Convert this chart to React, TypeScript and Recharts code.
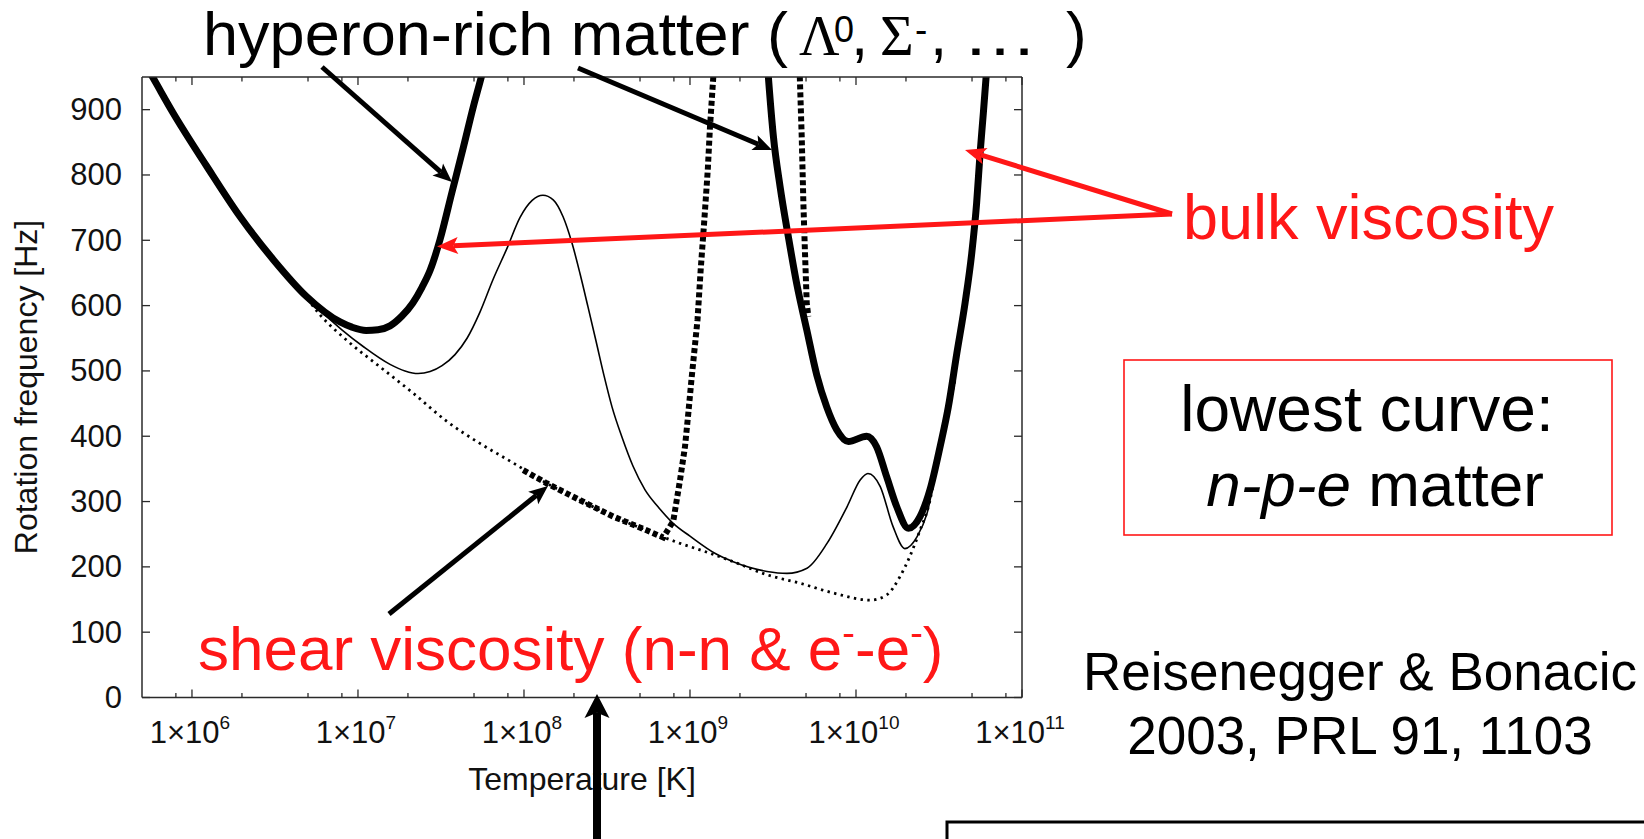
import React from "react";
import { LineChart, Line, XAxis, YAxis } from "recharts";

// temperature [K] vs rotation frequency [Hz]
const hyperonLow = [
  { t: 5.0e5, hz: 978 }, { t: 5.85e5, hz: 948 }, { t: 7.7e5, hz: 895 }, { t: 1.23e6, hz: 813 },
  { t: 1.95e6, hz: 736 }, { t: 3.1e6, hz: 670 }, { t: 4.9e6, hz: 614 }, { t: 7.8e6, hz: 575 },
  { t: 9.2e6, hz: 567 }, { t: 1.12e7, hz: 562 }, { t: 1.32e7, hz: 563 }, { t: 1.56e7, hz: 569 },
  { t: 1.84e7, hz: 584 }, { t: 2.14e7, hz: 604 }, { t: 2.43e7, hz: 628 }, { t: 2.72e7, hz: 654 },
  { t: 3.12e7, hz: 701 }, { t: 3.67e7, hz: 772 }, { t: 4.32e7, hz: 843 }, { t: 4.96e7, hz: 905 },
  { t: 5.56e7, hz: 952 }, { t: 6.1e7, hz: 992 },
];

const thinCurve = [
  { t: 5.0e5, hz: 978 }, { t: 5.85e5, hz: 948 }, { t: 7.7e5, hz: 895 }, { t: 1.23e6, hz: 813 },
  { t: 1.95e6, hz: 736 }, { t: 3.1e6, hz: 670 }, { t: 4.9e6, hz: 614 }, { t: 5.9e6, hz: 593 },
  { t: 8.0e6, hz: 563 }, { t: 1.08e7, hz: 537 }, { t: 1.56e7, hz: 510 }, { t: 1.92e7, hz: 500 },
  { t: 2.3e7, hz: 496 }, { t: 2.72e7, hz: 499 }, { t: 3.21e7, hz: 508 }, { t: 3.84e7, hz: 525 },
  { t: 4.54e7, hz: 550 }, { t: 5.43e7, hz: 590 }, { t: 6.51e7, hz: 640 }, { t: 7.91e7, hz: 688 },
  { t: 9.47e7, hz: 735 }, { t: 1.12e8, hz: 761 }, { t: 1.3e8, hz: 769 }, { t: 1.5e8, hz: 762 },
  { t: 1.72e8, hz: 736 }, { t: 1.95e8, hz: 695 }, { t: 2.18e8, hz: 648 }, { t: 2.43e8, hz: 598 },
  { t: 2.72e8, hz: 545 }, { t: 3.04e8, hz: 492 }, { t: 3.39e8, hz: 445 }, { t: 3.9e8, hz: 398 },
  { t: 4.54e8, hz: 354 }, { t: 5.36e8, hz: 318 }, { t: 6.42e8, hz: 292 }, { t: 7.89e8, hz: 267 },
  { t: 1.0e9, hz: 247 }, { t: 1.43e9, hz: 220 }, { t: 1.82e9, hz: 208 }, { t: 2.3e9, hz: 199 },
  { t: 2.91e9, hz: 193 }, { t: 3.84e9, hz: 190 }, { t: 5.07e9, hz: 198 }, { t: 6.69e9, hz: 236 },
  { t: 8.83e9, hz: 292 }, { t: 1.06e10, hz: 333 }, { t: 1.18e10, hz: 343 }, { t: 1.4e10, hz: 323 },
  { t: 1.67e10, hz: 262 }, { t: 1.97e10, hz: 228 }, { t: 2.33e10, hz: 246 }, { t: 2.68e10, hz: 282 },
  { t: 3.21e10, hz: 384 }, { t: 3.95e10, hz: 486 },
];

const npeCurve = [
  { t: 5.0e5, hz: 978 }, { t: 5.85e5, hz: 948 }, { t: 7.7e5, hz: 895 }, { t: 1.23e6, hz: 813 },
  { t: 1.95e6, hz: 736 }, { t: 3.1e6, hz: 670 }, { t: 4.9e6, hz: 612 }, { t: 5.9e6, hz: 586 },
  { t: 8.55e6, hz: 547 }, { t: 1.36e7, hz: 506 }, { t: 2.15e7, hz: 466 }, { t: 3.42e7, hz: 423 },
  { t: 5.43e7, hz: 389 }, { t: 8.63e7, hz: 359 }, { t: 1.37e8, hz: 328 }, { t: 2.18e8, hz: 302 },
  { t: 3.45e8, hz: 277 }, { t: 5.48e8, hz: 256 }, { t: 8.71e8, hz: 236 }, { t: 1.15e9, hz: 226 },
  { t: 1.82e9, hz: 208 }, { t: 2.9e9, hz: 188 }, { t: 4.6e9, hz: 175 }, { t: 7.3e9, hz: 160 },
  { t: 1.22e10, hz: 149 }, { t: 1.53e10, hz: 157 }, { t: 1.84e10, hz: 185 }, { t: 2.11e10, hz: 216 },
  { t: 2.43e10, hz: 256 }, { t: 2.73e10, hz: 292 }, { t: 3.21e10, hz: 384 }, { t: 3.95e10, hz: 486 },
];

const dottedLeft = [
  { t: 9.9e7, hz: 348 }, { t: 1.37e8, hz: 328 }, { t: 2.18e8, hz: 302 }, { t: 3.45e8, hz: 277 },
  { t: 5.48e8, hz: 256 }, { t: 6.9e8, hz: 245 }, { t: 7.93e8, hz: 270 }, { t: 8.71e8, hz: 333 },
  { t: 9.33e8, hz: 384 }, { t: 9.77e8, hz: 435 }, { t: 1.02e9, hz: 486 }, { t: 1.11e9, hz: 578 },
  { t: 1.16e9, hz: 655 }, { t: 1.22e9, hz: 731 }, { t: 1.28e9, hz: 808 }, { t: 1.32e9, hz: 874 },
  { t: 1.38e9, hz: 948 }, { t: 1.41e9, hz: 990 },
];

const dottedRight = [
  { t: 4.57e9, hz: 1000 }, { t: 4.59e9, hz: 948 }, { t: 4.71e9, hz: 859 }, { t: 4.82e9, hz: 757 },
  { t: 4.93e9, hz: 680 }, { t: 5.05e9, hz: 604 }, { t: 5.16e9, hz: 583 },
];

const hyperonHigh = [
  { t: 2.87e9, hz: 1000 }, { t: 2.97e9, hz: 948 }, { t: 3.18e9, hz: 859 }, { t: 3.49e9, hz: 782 },
  { t: 3.91e9, hz: 706 }, { t: 4.39e9, hz: 634 }, { t: 5.05e9, hz: 563 }, { t: 5.8e9, hz: 494 },
  { t: 6.66e9, hz: 445 }, { t: 7.65e9, hz: 410 }, { t: 9.0e9, hz: 392 }, { t: 1.16e10, hz: 400 },
  { t: 1.33e10, hz: 384 }, { t: 1.53e10, hz: 338 }, { t: 1.76e10, hz: 292 }, { t: 2.07e10, hz: 259 },
  { t: 2.43e10, hz: 277 }, { t: 2.79e10, hz: 318 }, { t: 3.21e10, hz: 384 }, { t: 3.6e10, hz: 445 },
  { t: 4.05e10, hz: 527 }, { t: 4.54e10, hz: 604 }, { t: 4.98e10, hz: 680 }, { t: 5.33e10, hz: 757 },
  { t: 5.59e10, hz: 833 }, { t: 5.85e10, hz: 895 }, { t: 6.07e10, hz: 948 }, { t: 6.3e10, hz: 1000 },
];

const xTicks = [
  8e5, 1e6, 2e6, 5e6, 8e6, 1e7, 2e7, 5e7, 8e7, 1e8, 2e8, 5e8, 8e8,
  1e9, 2e9, 5e9, 8e9, 1e10, 2e10, 5e10, 8e10, 1e11,
];
const yTicks = [0, 100, 200, 300, 400, 500, 600, 700, 800, 900];

const SANS = "'Liberation Sans', Arial, Helvetica, sans-serif";
const SERIF = "'Liberation Serif', 'Times New Roman', serif";
const RED = "#ff1717";
const FRAME = "#2a2a2a";

const isMajor = (v: number) => Math.abs(Math.log10(v) - Math.round(Math.log10(v))) < 1e-6;

function BottomTick(props: any) {
  const { x, y, payload } = props;
  const v = payload.value;
  const major = isMajor(v);
  return (
    <g>
      <line x1={x} y1={y} x2={x} y2={y - (major ? 8 : 4.5)} stroke={FRAME} strokeWidth={1.3} />
      {major && (
        <text x={x - 2} y={y + 45} textAnchor="middle" fontFamily={SANS} fontSize={31} fill="#111">
          1×10
          <tspan dy={-14} fontSize={19}>{Math.round(Math.log10(v))}</tspan>
        </text>
      )}
    </g>
  );
}

function TopTick(props: any) {
  const { x, y, payload } = props;
  const major = isMajor(payload.value);
  return <line x1={x} y1={y} x2={x} y2={y + (major ? 8 : 4.5)} stroke={FRAME} strokeWidth={1.3} />;
}

function LeftTick(props: any) {
  const { x, y, payload } = props;
  return (
    <g>
      <line x1={x} y1={y} x2={x + 8} y2={y} stroke={FRAME} strokeWidth={1.3} />
      <text x={x - 20} y={y + 10.5} textAnchor="end" fontFamily={SANS} fontSize={31} fill="#111">
        {payload.value}
      </text>
    </g>
  );
}

function RightTick(props: any) {
  const { x, y } = props;
  return <line x1={x} y1={y} x2={x - 8} y2={y} stroke={FRAME} strokeWidth={1.3} />;
}

function Arrow({ x1, y1, x2, y2, color = "#000", width = 5, headLen = 19, headW = 16 }: any) {
  const a = Math.atan2(y2 - y1, x2 - x1);
  const c = Math.cos(a);
  const s = Math.sin(a);
  const bx = x2 - headLen * c;
  const by = y2 - headLen * s;
  const nx = -s;
  const ny = c;
  const notch = headLen * 0.78;
  const pts = [
    [x2, y2],
    [bx + (nx * headW) / 2, by + (ny * headW) / 2],
    [x2 - notch * c, y2 - notch * s],
    [bx - (nx * headW) / 2, by - (ny * headW) / 2],
  ]
    .map((p) => p.join(","))
    .join(" ");
  return (
    <g>
      <line x1={x1} y1={y1} x2={x2 - notch * c} y2={y2 - notch * s} stroke={color} strokeWidth={width} />
      <polygon points={pts} fill={color} />
    </g>
  );
}

export default function App() {
  const lineCommon = {
    dataKey: "hz",
    xAxisId: "b",
    yAxisId: "l",
    dot: false,
    activeDot: false,
    isAnimationActive: false,
    stroke: "#000",
  } as const;

  return (
    <div
      style={{
        position: "absolute",
        left: 0,
        top: 0,
        width: 1644,
        height: 839,
        background: "#fff",
        overflow: "hidden",
      }}
    >
      <LineChart width={1644} height={839} margin={{ top: 67, right: 612, bottom: 81.5, left: 42 }}>
        <XAxis
          xAxisId="b"
          dataKey="t"
          type="number"
          scale="log"
          domain={[5e5, 1e11]}
          allowDataOverflow
          ticks={xTicks}
          interval={0}
          height={60}
          tickSize={0}
          tickMargin={0}
          tick={<BottomTick />}
          axisLine={{ stroke: FRAME, strokeWidth: 1.5 }}
        />
        <XAxis
          xAxisId="t"
          orientation="top"
          dataKey="t"
          type="number"
          scale="log"
          domain={[5e5, 1e11]}
          allowDataOverflow
          ticks={xTicks}
          interval={0}
          height={10}
          tickSize={0}
          tickMargin={0}
          tick={<TopTick />}
          axisLine={{ stroke: FRAME, strokeWidth: 1.5 }}
        />
        <YAxis
          yAxisId="l"
          type="number"
          domain={[0, 950]}
          allowDataOverflow
          ticks={yTicks}
          interval={0}
          width={100}
          tickSize={0}
          tickMargin={0}
          tick={<LeftTick />}
          axisLine={{ stroke: FRAME, strokeWidth: 1.5 }}
        />
        <YAxis
          yAxisId="r"
          orientation="right"
          type="number"
          domain={[0, 950]}
          allowDataOverflow
          ticks={yTicks}
          interval={0}
          width={10}
          tickSize={0}
          tickMargin={0}
          tick={<RightTick />}
          axisLine={{ stroke: FRAME, strokeWidth: 1.5 }}
        />

        <Line {...lineCommon} data={npeCurve} type="monotone" strokeWidth={2.8} strokeDasharray="2.4 4.4" />
        <Line {...lineCommon} data={thinCurve} type="monotone" strokeWidth={1.6} />
        <Line {...lineCommon} data={dottedLeft} type="linear" strokeWidth={6} strokeDasharray="5 3" />
        <Line {...lineCommon} data={dottedRight} type="linear" strokeWidth={6} strokeDasharray="5 3" />
        <Line {...lineCommon} data={hyperonLow} type="monotone" strokeWidth={7} />
        <Line {...lineCommon} data={hyperonHigh} type="monotone" strokeWidth={7} />
      </LineChart>

      <svg
        width={1644}
        height={839}
        style={{ position: "absolute", left: 0, top: 0, pointerEvents: "none" }}
      >
        <g fontFamily={SANS} fill="#000">
          <text x={203} y={55} fontSize={62} textLength={585} lengthAdjust="spacingAndGlyphs">
            hyperon-rich matter (
          </text>
          <text x={799} y={55} fontSize={56} fontFamily={SERIF}>Λ</text>
          <text x={834} y={42} fontSize={36}>0</text>
          <text x={851} y={55} fontSize={62}>,</text>
          <text x={880} y={55} fontSize={58} fontFamily={SERIF}>Σ</text>
          <text x={915} y={42} fontSize={37}>-</text>
          <text x={930} y={55} fontSize={62}>,</text>
          <text x={962} y={55} fontSize={62} textLength={76} lengthAdjust="spacingAndGlyphs">…</text>
          <text x={1066} y={55} fontSize={62}>)</text>
        </g>

        <Arrow x1={322} y1={67} x2={452} y2={182} />
        <Arrow x1={578} y1={68} x2={772} y2={150} />

        <Arrow x1={1172} y1={214} x2={437} y2={246.5} color={RED} width={5} headLen={21} headW={17} />
        <Arrow x1={1172} y1={214} x2={965} y2={150} color={RED} width={5} headLen={21} headW={17} />
        <text x={1183} y={239} fontFamily={SANS} fontSize={63} fill={RED}>
          bulk viscosity
        </text>

        <rect x={1124} y={360} width={488} height={175} fill="none" stroke={RED} strokeWidth={1.6} />
        <text x={1367} y={431} textAnchor="middle" fontFamily={SANS} fontSize={64} fill="#000">
          lowest curve:
        </text>
        <text x={1375} y={506} textAnchor="middle" fontFamily={SANS} fontSize={62} fill="#000">
          <tspan fontStyle="italic">n-p-e</tspan>
          {" matter"}
        </text>

        <text x={1360} y={690} textAnchor="middle" fontFamily={SANS} fontSize={53} fill="#000">
          Reisenegger &amp; Bonacic
        </text>
        <text x={1360} y={754} textAnchor="middle" fontFamily={SANS} fontSize={53} fill="#000">
          2003, PRL 91, 1103
        </text>

        <Arrow x1={389} y1={614} x2={548} y2={486} />
        <text x={198} y={670} fontFamily={SANS} fontSize={62} fill={RED}>
          {"shear viscosity (n-n & e"}
          <tspan dy={-24} fontSize={38}>-</tspan>
          <tspan dy={24}>-e</tspan>
          <tspan dy={-24} fontSize={38}>-</tspan>
          <tspan dy={24}>)</tspan>
        </text>

        <text x={582} y={790} textAnchor="middle" fontFamily={SANS} fontSize={32} fill="#111">
          Temperature [K]
        </text>
        <text
          x={0}
          y={0}
          transform="translate(37,387) rotate(-90)"
          textAnchor="middle"
          fontFamily={SANS}
          fontSize={32}
          fill="#111"
        >
          Rotation frequency [Hz]
        </text>

        <Arrow x1={597} y1={845} x2={597} y2={694} width={8} headLen={24} headW={25} />
        <rect x={947} y={822} width={800} height={100} fill="none" stroke="#000" strokeWidth={3} />
      </svg>
    </div>
  );
}
